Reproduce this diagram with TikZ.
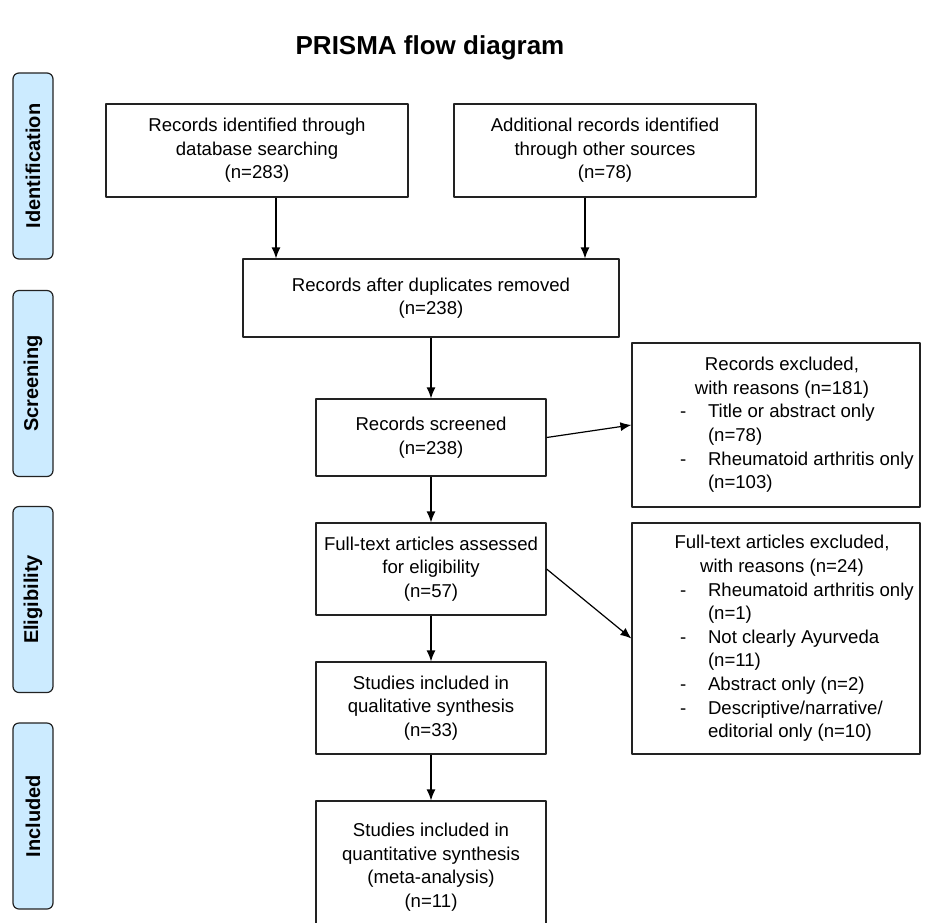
\documentclass[tikz,border=0pt]{standalone}
\usepackage{fontspec}
\setmainfont{Liberation Sans}
\usetikzlibrary{arrows.meta}
\definecolor{phasefill}{RGB}{204,235,255}
\definecolor{boxline}{RGB}{34,34,34}
\tikzset{
  flowbox/.style={draw=boxline,line width=1.2pt,inner xsep=3pt,inner ysep=0pt,align=center,font=\fontsize{18.6}{23.6}\selectfont},
  exbox/.style={draw=boxline,line width=1.2pt,inner sep=0pt,minimum width=288pt,font=\fontsize{18.6}{23.6}\selectfont},
  phase/.style={draw=boxline,line width=1.2pt,fill=phasefill,rounded corners=6pt,rotate=90,minimum width=186pt,minimum height=40pt,inner sep=0pt,font=\fontsize{20}{24}\selectfont\bfseries},
}
\begin{document}
\begin{tikzpicture}[>={Latex[length=11pt,width=9pt]},line join=bevel,x=1pt,y=-1pt]
\useasboundingbox (0,0) rectangle (928,922);
\clip (0,0) rectangle (928,922);
%%
  \node [font=\fontsize{26}{30}\selectfont\bfseries] (node_title) at (430,48) {PRISMA flow diagram};
  \node [phase] (node_ident) at (33,166) {Identification};
  \node [phase] (node_scr) at (33,383.5) {Screening};
  \node [phase] (node_elig) at (33,599.5) {Eligibility};
  \node [phase] (node_incl) at (33,816) {Included};
%%
  \node [flowbox,minimum width=302pt,minimum height=93pt] (node_db) at (257,150.5) {Records identified through\\database searching\\(n=283)};
  \node [flowbox,minimum width=302pt,minimum height=93pt] (node_other) at (605,150.5) {Additional records identified\\through other sources\\(n=78)};
  \node [flowbox,minimum width=376pt,minimum height=78pt] (node_dedup) at (431,298) {Records after duplicates removed\\(n=238)};
  \node [flowbox,minimum width=230pt,minimum height=77pt] (node_screen) at (431,437.5) {Records screened\\(n=238)};
  \node [flowbox,minimum width=230pt,minimum height=92pt] (node_full) at (431,569) {Full-text articles assessed\\for eligibility\\(n=57)};
  \node [flowbox,minimum width=230pt,minimum height=92pt] (node_qual) at (431,708) {Studies included in\\qualitative synthesis\\(n=33)};
  \node [flowbox,minimum width=230pt,minimum height=132pt] (node_quant) at (431,867) {Studies included in\\quantitative synthesis\\(meta-analysis)\\(n=11)};
%%
  \node [exbox,minimum height=164pt] (node_excl1) at (776,425) {\begin{tabular}{@{\hspace{48pt}}p{28pt}@{}p{212pt}@{}}
    \multicolumn{2}{@{\hspace{12pt}}c@{}}{Records excluded,}\\
    \multicolumn{2}{@{\hspace{12pt}}c@{}}{with reasons (n=181)}\\
    - & Title or abstract only\\
      & (n=78)\\
    - & Rheumatoid arthritis only\\
      & (n=103)
  \end{tabular}};
  \node [exbox,minimum height=231pt] (node_excl2) at (776,638.5) {\begin{tabular}{@{\hspace{48pt}}p{28pt}@{}p{212pt}@{}}
    \multicolumn{2}{@{\hspace{12pt}}c@{}}{Full-text articles excluded,}\\
    \multicolumn{2}{@{\hspace{12pt}}c@{}}{with reasons (n=24)}\\
    - & Rheumatoid arthritis only\\
      & (n=1)\\
    - & Not clearly Ayurveda\\
      & (n=11)\\
    - & Abstract only (n=2)\\
    - & Descriptive/narrative/\\
      & editorial only (n=10)
  \end{tabular}};
%%
  \draw [black,line width=1.2pt,->] ([xshift=19pt]node_db.south) -- ([xshift=19pt]node_db.south |- node_dedup.north);
  \draw [black,line width=1.2pt,->] ([xshift=-20pt]node_other.south) -- ([xshift=-20pt]node_other.south |- node_dedup.north);
  \draw [black,line width=1.2pt,->] (node_dedup) edge (node_screen);
  \draw [black,line width=1.2pt,->] (node_screen.east) -- (node_excl1.west);
  \draw [black,line width=1.2pt,->] (node_screen) edge (node_full);
  \draw [black,line width=1.2pt,->] (node_full.east) -- (node_excl2.west);
  \draw [black,line width=1.2pt,->] (node_full) edge (node_qual);
  \draw [black,line width=1.2pt,->] (node_qual) edge (node_quant);
\end{tikzpicture}
\end{document}
